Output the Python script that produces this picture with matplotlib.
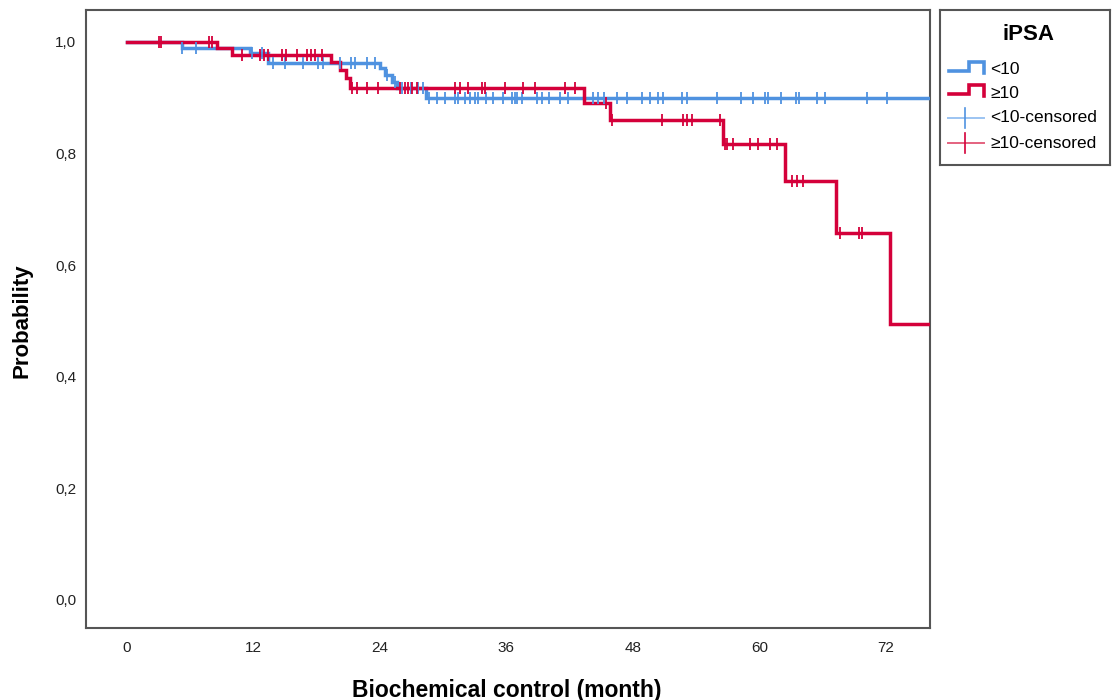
import numpy as np
import matplotlib
matplotlib.use("Agg")
import matplotlib.pyplot as plt

plt.rcParams['font.family'] = ['Liberation Sans', 'DejaVu Sans']

# Kaplan-Meier steps (months, survival after the step)
low_event_times = [5.2, 11.7, 13.4, 24.0, 24.5, 25.1, 25.6, 28.4]
low_event_surv = [0.990, 0.980, 0.963, 0.953, 0.941, 0.929, 0.917, 0.899]
low_censored = [5.2, 6.5, 11.9, 12.8, 13.9, 15.0, 16.7, 18.1, 18.6, 20.2, 21.3,
                21.6, 22.8, 23.5, 24.7, 25.4, 26.1, 26.9, 27.6, 28.1, 28.7, 29.4,
                30.2, 31.1, 31.4, 32.1, 32.5, 33.0, 33.3, 34.1, 34.7, 35.7, 36.5,
                36.8, 37.0, 37.5, 38.9, 39.4, 40.0, 41.1, 41.8, 44.2, 44.7, 45.3,
                46.5, 47.4, 48.9, 49.6, 50.4, 50.9, 52.7, 53.1, 56.0, 58.3, 59.4,
                60.5, 60.8, 62.1, 63.5, 63.8, 65.5, 66.2, 70.2, 72.1]

high_event_times = [8.5, 10.0, 19.4, 20.2, 20.8, 21.2, 43.4, 45.8, 56.55, 62.4, 67.3, 72.4]
high_event_surv = [0.989, 0.977, 0.965, 0.950, 0.935, 0.917, 0.890, 0.860, 0.817,
                   0.750, 0.657, 0.495]
high_censored = [3.04, 3.23, 7.78, 8.06, 10.9, 12.6, 13.0, 13.4, 14.7, 15.1, 16.1,
                 17.1, 17.5, 17.8, 18.5, 21.35, 21.8, 22.8, 23.8, 25.9, 26.4, 26.7,
                 27.0, 27.5, 31.1, 31.6, 32.35, 33.7, 34.0, 35.9, 37.6, 38.7, 41.6,
                 42.5, 45.45, 46.0, 50.8, 52.75, 53.1, 53.6, 56.3, 56.7, 56.9, 57.5,
                 59.1, 59.9, 61.0, 61.7, 63.1, 63.6, 64.1, 67.65, 69.45, 69.7]

follow_up_end = 77.0

x_ticks = [0, 12, 24, 36, 48, 60, 72]
y_ticks = [0.0, 0.2, 0.4, 0.6, 0.8, 1.0]
y_tick_labels = ['0,0', '0,2', '0,4', '0,6', '0,8', '1,0']

legend_title = 'iPSA'
group_labels = ['<10', '\u226510']
censor_labels = ['<10-censored', '\u226510-censored']

blue = '#4f92e0'
red = '#d4003a'
blue_light = '#9cc4f2'
red_light = '#e4627f'


def km_curve(times, surv):
    t = np.concatenate([[0.0], times, [follow_up_end]])
    s = np.concatenate([[1.0], surv, [surv[-1]]])
    return t, s


def surv_at(times, surv, when):
    idx = np.searchsorted(np.asarray(times), np.asarray(when), side='right')
    s = np.concatenate([[1.0], surv])
    return s[idx]


fig = plt.figure(figsize=(11.12, 7.0), dpi=100)
ax = fig.add_axes([86 / 1112, 1 - 628 / 700, 844 / 1112, 618 / 700])

groups = [
    (low_event_times, low_event_surv, low_censored, blue),
    (high_event_times, high_event_surv, high_censored, red),
]
for times, surv, cens, col in groups:
    t, s = km_curve(times, surv)
    ax.step(t, s, where='post', color=col, lw=2.5, solid_joinstyle='miter', zorder=3)
    ax.plot(cens, surv_at(times, surv, cens), ls='none', marker='|',
            ms=8.5, mew=1.3, color=col, zorder=4)

ax.set_xlim(-3.89, 76.19)
ax.set_ylim(-0.0502, 1.0573)
ax.set_xticks(x_ticks)
ax.set_yticks(y_ticks)
ax.set_yticklabels(y_tick_labels)
ax.tick_params(length=0, labelsize=11, colors='#222222')
ax.tick_params(axis='x', pad=9)
ax.tick_params(axis='y', pad=7)
for sp in ax.spines.values():
    sp.set_color('#555555')
    sp.set_linewidth(1.5)

ax.set_xlabel('Biochemical control (month)', fontsize=16.5, fontweight='bold')
ax.set_ylabel('Probability', fontsize=16, fontweight='bold')
ax.xaxis.set_label_coords(0.499, -0.082)
ax.yaxis.set_label_coords(-0.063, 0.498)

# legend box drawn in its own pixel-like axes
lg = fig.add_axes([940 / 1112, 1 - 165 / 700, 170 / 1112, 155 / 700])
lg.set_xlim(0, 170)
lg.set_ylim(155, 0)
lg.set_xticks([])
lg.set_yticks([])
for sp in lg.spines.values():
    sp.set_color('#555555')
    sp.set_linewidth(1.5)

lg.text(88, 25, legend_title, fontsize=16, fontweight='bold', ha='center', va='center')
for i, (lab, col) in enumerate(zip(group_labels, [blue, red])):
    y0 = 61 + 23 * i
    lg.plot([9, 29, 29, 44, 44], [y0, y0, y0 - 9, y0 - 9, y0 + 2], color=col, lw=2.6,
            solid_joinstyle='miter')
    lg.text(50, y0 - 1, lab, fontsize=12.5, ha='left', va='center')
for i, (lab, col, lcol) in enumerate(zip(censor_labels, [blue, red], [blue_light, red_light])):
    y0 = 108 + 25 * i
    lg.plot([8, 44], [y0, y0], color=lcol, lw=1.4)
    lg.plot([25, 25], [y0 - 10, y0 + 10], color=col, lw=1.2)
    lg.text(50, y0, lab, fontsize=12.5, ha='left', va='center')

fig.savefig('out.png', dpi=100, facecolor='white')
